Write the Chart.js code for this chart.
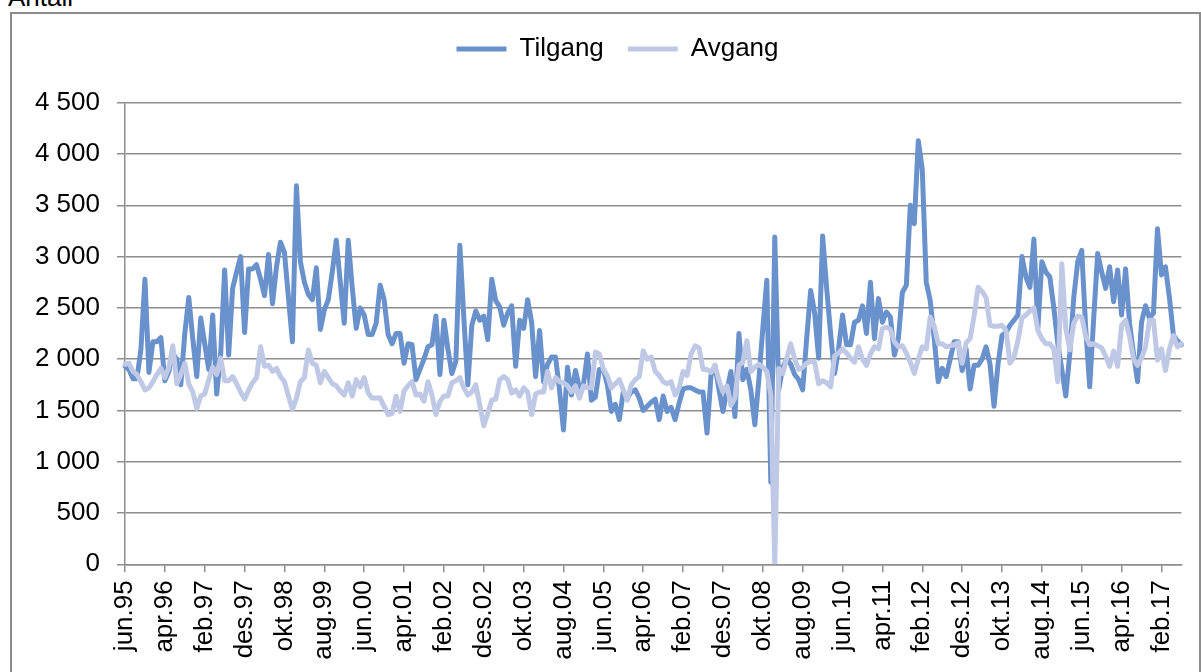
<!DOCTYPE html>
<html>
<head>
<meta charset="utf-8">
<script src="https://cdn.jsdelivr.net/npm/chart.js@4.4.1/dist/chart.umd.min.js"></script>
<style>
html, body { margin: 0; padding: 0; background: #fff; overflow: hidden; }
#wrap { position: relative; width: 1201px; height: 672px; overflow: hidden; }
#frame { position: absolute; left: 10px; top: 12px; width: 1187px; height: 700px; border: 2px solid #8c8c8c; }
#ytitle { position: absolute; left: 8px; top: -15px; font: 26px/25px "Liberation Sans", Arial, sans-serif; color: #000; }
canvas { position: absolute; left: 0; top: 0; }
</style>
</head>
<body>
<div id="wrap">
  <div id="frame"></div>
  <div id="ytitle">Antall</div>
  <canvas id="chart" width="1201" height="672"></canvas>
</div>
<script>
// monthly series, jun.95 - jul.17
const monthNames = ["jan", "feb", "mar", "apr", "mai", "jun", "jul", "aug", "sep", "okt", "nov", "des"];
const startMonth = 5, startYear = 1995, monthCount = 266;

const tilgang = [
  1930, 1900, 1810, 1810, 2100, 2780, 1870, 2170, 2170, 2210,
  1790, 1880, 2050, 2000, 1750, 2250, 2600, 2200, 1830, 2400,
  2150, 1900, 2430, 1660, 2050, 2870, 2040, 2690, 2850, 3000,
  2260, 2880, 2880, 2920, 2780, 2620, 3020, 2540, 2900, 3140,
  3040, 2600, 2170, 3690, 2950, 2750, 2630, 2580, 2890, 2290,
  2480, 2580, 2850, 3160, 2750, 2350, 3160, 2700, 2300, 2500,
  2430, 2240, 2240, 2350, 2720, 2580, 2240, 2150, 2250, 2250,
  1960, 2150, 2140, 1800, 1900, 2000, 2120, 2140, 2420, 1850,
  2380, 2100, 1860, 1980, 3110, 2400, 1750, 2330, 2470, 2380,
  2420, 2190, 2780, 2570, 2510, 2330, 2450, 2520, 1930, 2380,
  2300, 2580, 2360, 1830, 2280, 1780, 1950, 2020, 2020, 1700,
  1310, 1920, 1650, 1890, 1720, 1750, 2050, 1600, 1630, 1900,
  1900, 1750, 1490, 1560, 1410, 1680, 1620, 1680, 1700, 1620,
  1500, 1540, 1580, 1610, 1410, 1640, 1490, 1530, 1410, 1570,
  1710, 1720, 1720, 1700, 1680, 1680, 1280, 1840, 1940, 1700,
  1490, 1700, 1880, 1440, 2250, 1800, 1900, 1700, 1360, 1800,
  2300, 2770, 800, 3190, 1700, 1920, 2000, 1950, 1850, 1800,
  1700, 2200, 2670, 2450, 2010, 3200, 2700, 2250, 1860, 2100,
  2430, 2140, 2140, 2360, 2380, 2520, 2250, 2750, 2200, 2590,
  2360, 2460, 2410, 2040, 2200, 2650, 2720, 3500, 3320, 4130,
  3850, 2750, 2570, 2200, 1780, 1910, 1830, 2000, 2170, 2170,
  1890, 2100, 1710, 1940, 1940, 2000, 2120, 1950, 1540, 1950,
  2230, 2260, 2330, 2380, 2430, 3000, 2800, 2700, 3170, 2300,
  2950, 2850, 2800, 2500, 2150, 1900, 1640, 2050, 2600, 2950,
  3060, 2300, 1730, 2400, 3030, 2850, 2690, 2900, 2560, 2870,
  2430, 2880, 2350, 2050, 1780, 2360, 2520, 2400, 2450, 3270,
  2820, 2900, 2600, 2230, 2180, 2140
];

const avgang = [
  1950, 1960, 1880, 1850, 1780, 1700, 1720, 1780, 1850, 1910,
  1820, 1920, 2130, 1760, 1850, 1960, 1760, 1680, 1520, 1640,
  1660, 1800, 1920, 1850, 2010, 1790, 1790, 1830, 1760, 1680,
  1610, 1700, 1770, 1820, 2120, 1930, 1940, 1880, 1910, 1830,
  1780, 1640, 1510, 1620, 1780, 1820, 2090, 1960, 1940, 1770,
  1880, 1820, 1760, 1740, 1690, 1650, 1770, 1640, 1800, 1730,
  1820, 1670, 1620, 1620, 1620, 1540, 1460, 1470, 1640, 1490,
  1690, 1740, 1780, 1650, 1660, 1590, 1780, 1650, 1460, 1590,
  1640, 1640, 1770, 1790, 1820, 1720, 1650, 1680, 1750, 1550,
  1350, 1470, 1600, 1610, 1800, 1830, 1800, 1670, 1700, 1640,
  1720, 1680, 1460, 1660, 1680, 1680, 1880, 1720, 1820, 1780,
  1770, 1740, 1680, 1740, 1620, 1740, 1720, 1720, 2070, 2050,
  1900, 1840, 1720, 1760, 1800, 1700, 1600, 1750, 1800, 1830,
  2080, 2000, 2020, 1880, 1840, 1780, 1760, 1780, 1650, 1720,
  1880, 1840, 2050, 2130, 2110, 1900, 1900, 1870, 1940, 1790,
  1680, 1740, 1550, 1620, 1940, 1970, 2180, 1880, 1920, 1950,
  1920, 1880, 1650, 0, 1910, 1860, 2010, 2150, 2000, 1900,
  1920, 1960, 1980, 1970, 1760, 1790, 1770, 1730, 2030, 2060,
  2100, 2060, 2010, 1970, 2120, 2000, 1940, 2050, 2120, 2100,
  2300, 2310, 2290, 2170, 2120, 2130, 2060, 1970, 1860, 2000,
  2120, 2100, 2410, 2320, 2150, 2150, 2120, 2130, 2140, 2160,
  1960, 2160, 2200, 2420, 2700, 2660, 2600, 2330, 2320, 2320,
  2330, 2280, 1960, 2020, 2180, 2400, 2430, 2470, 2500, 2280,
  2200, 2150, 2150, 2100, 1780, 2930, 2300, 2090, 2350, 2420,
  2410, 2220, 2140, 2150, 2130, 2110, 2030, 1930, 2080, 1930,
  2330, 2380, 2220, 2000, 1940, 2010, 2120, 2380, 2380, 1990,
  2100, 1890, 2100, 2230, 2120, 2150
];

const labels = [];
for (let i = 0; i < monthCount; i++) {
  const m = (startMonth + i) % 12;
  const y = startYear + Math.floor((startMonth + i) / 12);
  labels.push(monthNames[m] + "." + String(y % 100).padStart(2, "0"));
}

Chart.defaults.font.family = '"Liberation Sans", Arial, sans-serif';
Chart.defaults.font.size = 26;
Chart.defaults.color = "#000";

const gridColor = "#8e8e8e";

// fixed legend height so the plot top lands where the original has it,
// and nudge the legend a bit right (it is centred on the plot, not the page)
const legendPlace = {
  id: "legendPlace",
  beforeInit(chart) {
    const fit = chart.legend.fit;
    chart.legend.fit = function () {
      fit.bind(chart.legend)();
      this.height = 90.7;
    };
  },
  afterLayout(chart) {
    chart.legend.left += 26;
    chart.legend.right += 26;
  },
};

new Chart(document.getElementById("chart"), {
  type: "line",
  data: {
    labels: labels,
    datasets: [
      {
        label: "Tilgang",
        data: tilgang,
        borderColor: "#6991cc",
        backgroundColor: "#6991cc",
        borderWidth: 5,
        pointRadius: 0,
        tension: 0,
        borderJoinStyle: "round",
        borderCapStyle: "round",
        order: 2,
      },
      {
        label: "Avgang",
        data: avgang,
        borderColor: "#bfc9e6",
        backgroundColor: "#bfc9e6",
        borderWidth: 5,
        pointRadius: 0,
        tension: 0,
        borderJoinStyle: "round",
        borderCapStyle: "round",
        order: 1,
      },
    ],
  },
  options: {
    responsive: false,
    animation: false,
    layout: { padding: { left: 0, right: 18, top: 12, bottom: 0 } },
    plugins: {
      tooltip: { enabled: false },
      legend: {
        position: "top",
        labels: {
          usePointStyle: true,
          pointStyle: "line",
          pointStyleWidth: 50,
          padding: 24,
          font: { size: 26 },
          sort: (a, b) => a.datasetIndex - b.datasetIndex,
        },
      },
    },
    scales: {
      x: {
        type: "category",
        offset: false,
        afterFit(scale) { scale.height = 107.7; },
        grid: { drawOnChartArea: false, drawTicks: true, tickLength: 8, color: gridColor, lineWidth: 1.5 },
        border: { display: true, color: gridColor, width: 1.5 },
        ticks: {
          autoSkip: false,
          maxRotation: 90,
          minRotation: 90,
          padding: 8,
          font: { size: 26 },
          callback: function (val, idx) {
            return idx % 10 === 0 ? labels[idx] : null;
          },
        },
      },
      y: {
        min: 0,
        max: 4500,
        afterFit(scale) { scale.width = 125; },
        grid: { drawTicks: true, tickLength: 8, color: gridColor, lineWidth: 1.5 },
        border: { display: true, color: gridColor, width: 1.5 },
        ticks: {
          stepSize: 500,
          padding: 17,
          font: { size: 26 },
          callback: function (v) {
            if (v < 1000) return String(v);
            return Math.floor(v / 1000) + " " + String(v % 1000).padStart(3, "0");
          },
        },
      },
    },
  },
  plugins: [legendPlace],
});
</script>
</body>
</html>
